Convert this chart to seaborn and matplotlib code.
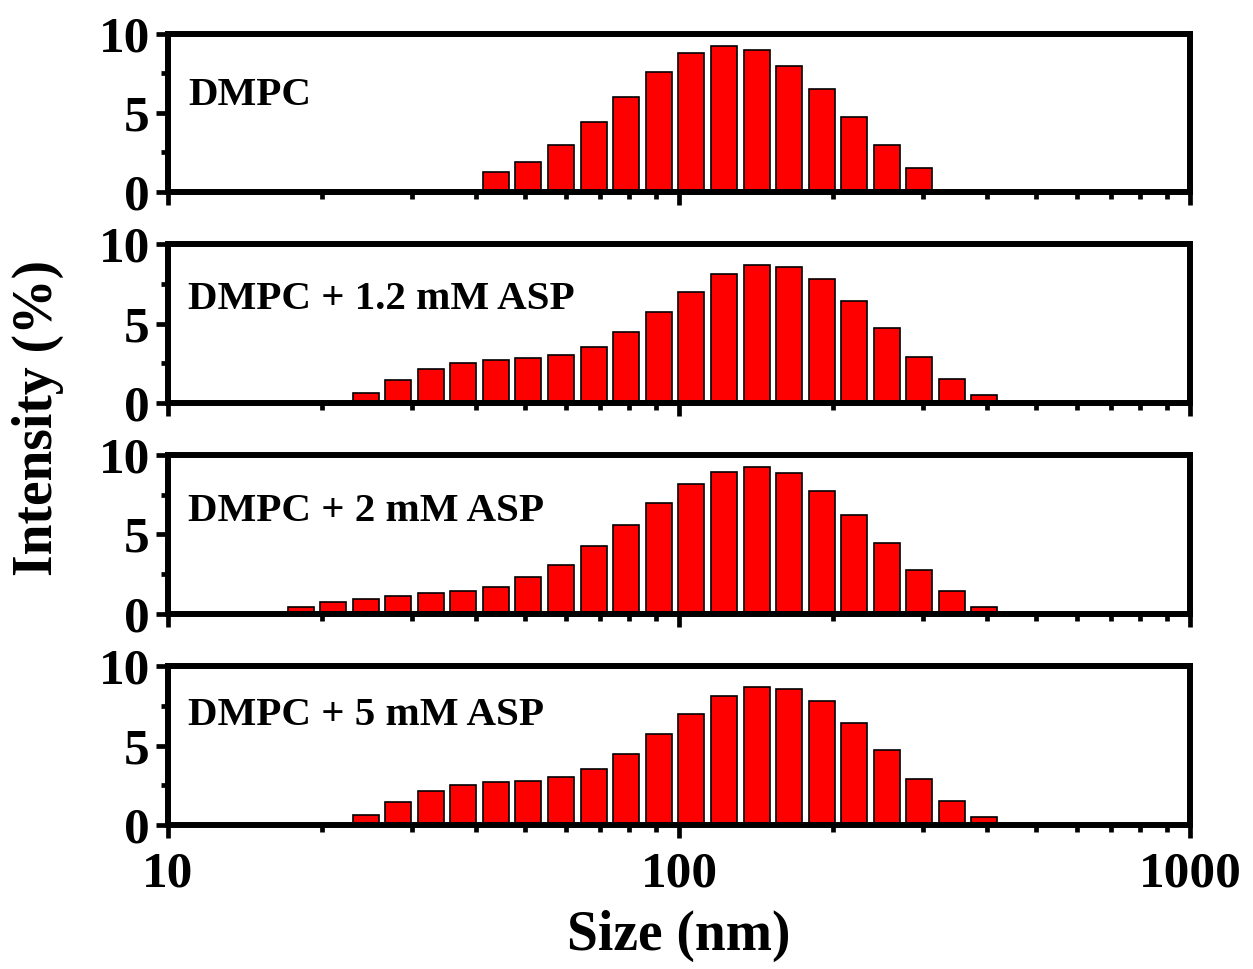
import numpy as np
import pandas as pd
import matplotlib
matplotlib.use("Agg")
import matplotlib.pyplot as plt
import seaborn as sns

# ---------------- data ----------------
sizes = [18.17, 21.04, 24.36, 28.21, 32.67, 37.84, 43.82, 50.75, 58.77, 68.06,
         78.82, 91.28, 105.7, 122.4, 141.8, 164.2, 190.1, 220.2, 255.0, 295.3,
         342.0, 396.1]

labels = ["DMPC", "DMPC + 1.2 mM ASP", "DMPC + 2 mM ASP", "DMPC + 5 mM ASP"]

dmpc_sizes = sizes[6:20]
dmpc = [1.25, 1.85, 2.94, 4.44, 6.0, 7.56, 8.78, 9.25, 8.96, 7.96, 6.51, 4.72, 2.94, 1.49]

asp12_sizes = sizes[2:22]
asp12 = [0.61, 1.43, 2.14, 2.53, 2.72, 2.81, 3.02, 3.52, 4.49, 5.70, 6.98, 8.09,
         8.68, 8.58, 7.80, 6.40, 4.70, 2.89, 1.53, 0.50]

asp2_sizes = sizes[0:22]
asp2 = [0.40, 0.71, 0.90, 1.10, 1.29, 1.42, 1.69, 2.32, 3.08, 4.28, 5.57, 6.98,
        8.18, 8.93, 9.23, 8.85, 7.73, 6.24, 4.47, 2.77, 1.40, 0.39]

asp5_sizes = sizes[2:22]
asp5 = [0.63, 1.45, 2.12, 2.52, 2.73, 2.79, 3.02, 3.52, 4.49, 5.70, 7.0, 8.09,
        8.68, 8.58, 7.80, 6.42, 4.72, 2.91, 1.53, 0.52]

panels = [(dmpc_sizes, dmpc), (asp12_sizes, asp12), (asp2_sizes, asp2), (asp5_sizes, asp5)]

x_ticks = [10, 100, 1000]
x_ticklabels = ["10", "100", "1000"]
y_ticks = [0, 5, 10]
y_ticklabels = ["0", "5", "10"]

# ---------------- style ----------------
sns.set_theme(style="ticks", rc={
    "axes.edgecolor": "black", "text.color": "black", "axes.labelcolor": "black",
    "xtick.color": "black", "ytick.color": "black",
})
plt.rcParams["font.family"] = ["Liberation Serif", "DejaVu Serif"]
plt.rcParams["font.weight"] = "bold"

W, H = 1253, 969
fig = plt.figure(figsize=(W / 100, H / 100), dpi=100)

left_px, right_px = 168, 1190
panel_px = [(34, 191.5), (244, 403), (455.3, 613.5), (666, 825)]

spine_lw = 4.3
for i, ((xs, ys), (top, bot)) in enumerate(zip(panels, panel_px)):
    ax = fig.add_axes([left_px / W, 1 - bot / H, (right_px - left_px) / W, (bot - top) / H])
    df = pd.DataFrame({"size": xs, "intensity": ys})
    sns.barplot(data=df, x="size", y="intensity", ax=ax, native_scale=True,
                log_scale=(True, False), orient="x", color="#ff0000", saturation=1,
                width=0.8, errorbar=None, edgecolor="black", linewidth=1.2)
    ax.set_xlim(10, 1000)
    ax.set_ylim(0, 10)
    ax.set_xlabel("")
    ax.set_ylabel("")
    for s in ax.spines.values():
        s.set_linewidth(spine_lw)
        s.set_color("black")
        s.set_visible(True)
        s.set_zorder(5)
    ax.set_xticks(x_ticks)
    ax.set_yticks(y_ticks)
    ax.set_yticks([2.5, 7.5], minor=True)
    ax.set_yticklabels(y_ticklabels)
    if i == 3:
        ax.set_xticklabels(x_ticklabels)
    else:
        ax.set_xticklabels([])
    ax.tick_params(axis="both", which="major", direction="out", length=9, width=3.4,
                   labelsize=37, pad=4, top=False, right=False, colors="black")
    ax.tick_params(axis="both", which="minor", direction="out", length=5, width=3.4,
                   top=False, right=False, colors="black")
    ax.tick_params(axis="x", which="major", pad=10)
    for t in ax.get_xticklabels() + ax.get_yticklabels():
        t.set_fontweight("bold")
        t.set_color("black")
    ax.text(0.02, [0.61, 0.65, 0.645, 0.69][i], labels[i], transform=ax.transAxes,
            fontsize=29.5, fontweight="bold", va="center", ha="left", color="black")

fig.text((left_px + right_px) / 2 / W, 1 - 936 / H, "Size (nm)", ha="center", va="center",
         fontsize=40, fontweight="bold", color="black")
fig.text(38 / W, 1 - 418 / H, "Intensity (%)", ha="center", va="center", rotation=90,
         fontsize=40, fontweight="bold", color="black")

fig.savefig("out.png", dpi=100)
